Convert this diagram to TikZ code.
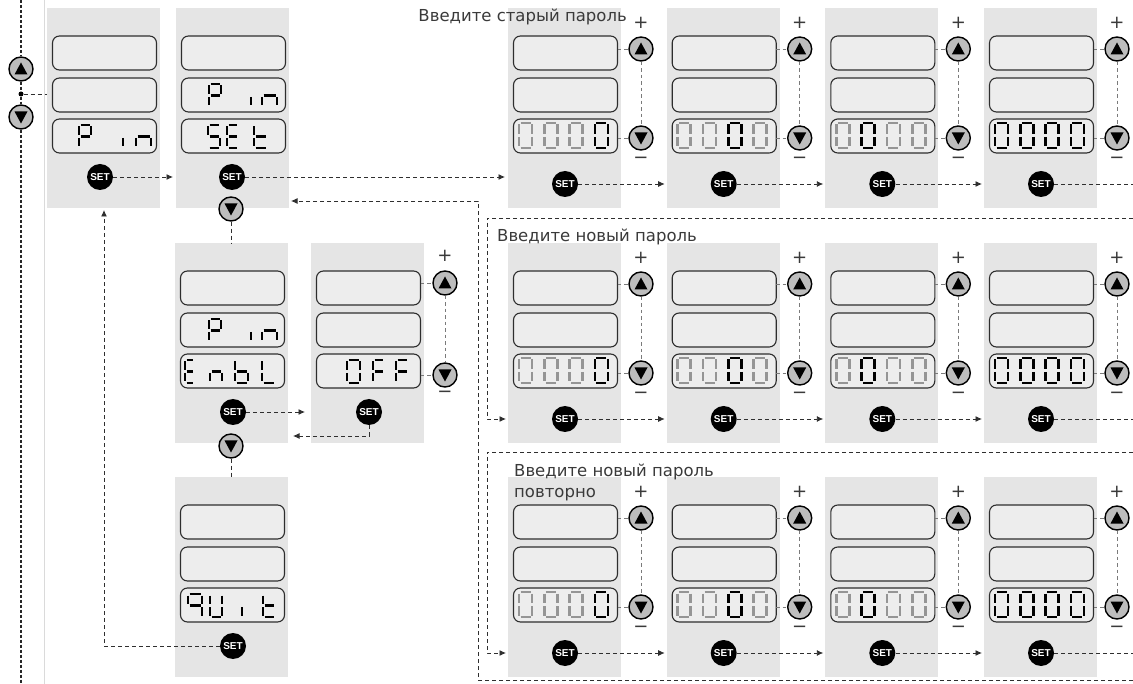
\documentclass[tikz,border=0pt]{standalone}
\usepackage{fontspec}
\setmainfont{DejaVu Sans}
\newfontfamily\btnfont{Liberation Sans}
\usetikzlibrary{arrows.meta,calc}

\definecolor{panelgray}{HTML}{E5E5E5}
\definecolor{lcdfill}{HTML}{EDEDED}
\definecolor{lcdedge}{HTML}{2E2E2E}
\definecolor{segoff}{HTML}{959595}
\definecolor{btngray}{HTML}{BDBDBD}
\definecolor{wirecol}{HTML}{2F2F2F}
\definecolor{tickcol}{HTML}{7A7A7A}
\definecolor{railcol}{HTML}{DADADA}
\definecolor{labelcol}{HTML}{3A3A3A}

\tikzset{
  panelbox/.style={fill=panelgray, minimum width=113pt, minimum height=200pt, inner sep=0pt, outer sep=0pt, anchor=north west},
  lcd/.style={draw=lcdedge, fill=lcdfill, rounded corners=7pt, line width=1.1pt, minimum width=104pt, minimum height=34pt, inner sep=0pt, outer sep=0pt, anchor=north west},
  setbtn/.style={circle, fill=black, minimum size=26pt, inner sep=0pt, text=white, font=\btnfont\bfseries\fontsize{10}{10}\selectfont},
  arrbtn/.style={circle, fill=btngray, draw=black, line width=1.4pt, minimum size=24pt, inner sep=0pt},
  wire/.style={draw=wirecol, line width=0.9pt, dash pattern=on 4pt off 3pt},
  wirearrow/.style={wire, -{Latex[length=6.5pt,width=6pt]}},
  tickline/.style={draw=tickcol, line width=0.8pt, dash pattern=on 3.5pt off 3pt},
  rail/.style={draw=black!85, line width=1.4pt, dash pattern=on 3pt off 2pt},
  seg/.style={line width=2.6pt},
  sign/.style={font=\fontsize{18}{18}\selectfont, text=labelcol, inner sep=0pt},
  caption/.style={font=\fontsize{16.5}{21}\selectfont, text=labelcol, inner sep=0pt, anchor=west, align=left},
}

% seven-segment pieces: x, top, width, height, colour
\newcommand\lcsa[5]{\draw[seg,color=#5] (#1+1.5,#2) -- (#1+#3-1.5,#2);}
\newcommand\lcsb[5]{\draw[seg,color=#5] (#1+#3,#2+1.5) -- (#1+#3,#2+#4/2-1.5);}
\newcommand\lcsc[5]{\draw[seg,color=#5] (#1+#3,#2+#4/2+1.5) -- (#1+#3,#2+#4-1.5);}
\newcommand\lcsd[5]{\draw[seg,color=#5] (#1+1.5,#2+#4) -- (#1+#3-1.5,#2+#4);}
\newcommand\lcse[5]{\draw[seg,color=#5] (#1,#2+#4/2+1.5) -- (#1,#2+#4-1.5);}
\newcommand\lcsf[5]{\draw[seg,color=#5] (#1,#2+1.5) -- (#1,#2+#4/2-1.5);}
\newcommand\lcsg[5]{\draw[seg,color=#5] (#1+1.5,#2+#4/2) -- (#1+#3-1.5,#2+#4/2);}
% one character: x, top, width, height, colour, segment list
\newcommand\lcdchar[6]{\foreach \sgx in {#6}{\csname lcs\sgx\endcsname{#1}{#2}{#3}{#4}{#5}}}

% panel with three displays and a SET key: name, x, y, SET dx, SET dy
\newcommand\mkpanel[5]{%
  \node[panelbox] (#1) at (#2,#3) {};
  \node[lcd] (#1-1) at (#2+5.5,#3+28) {};
  \node[lcd] (#1-2) at (#2+5.5,#3+70) {};
  \node[lcd] (#1-3) at (#2+5.5,#3+111) {};
  \node[setbtn] (#1-s) at (#2+#4,#3+#5) {SET};
}
\newcommand\upbtn[3]{\node[arrbtn] (#1) at (#2,#3) {};
  \fill (#2,#3-6.5) -- (#2+6.5,#3+5.5) -- (#2-6.5,#3+5.5) -- cycle;}
\newcommand\dnbtn[3]{\node[arrbtn] (#1) at (#2,#3) {};
  \fill (#2,#3+6.5) -- (#2+6.5,#3-5.5) -- (#2-6.5,#3-5.5) -- cycle;}

\begin{document}
\begin{tikzpicture}[x=1pt,y=-1pt]
\useasboundingbox (0,0) rectangle (1133,684);
\fill[white] (0,0) rectangle (1133,684);

% separator and menu rail on the left
\draw[railcol, line width=1pt] (44,0) -- (44,684);

% ---- menu column ----
\mkpanel{pA}{47}{8}{53}{169}
\mkpanel{pB}{176}{8}{56}{169}
\mkpanel{pC}{175}{243}{58}{169}
\mkpanel{pD}{311}{243}{58}{169}
\mkpanel{pE}{175}{477}{58}{169}

% P in
\lcdchar{79}{125}{12}{23}{black}{a,b,f,g,e}
\lcdchar{123}{125}{12}{23}{black}{e}
\lcdchar{136}{125}{15}{23}{black}{e,g,c}
% P in / SEt
\lcdchar{209}{84}{12}{23}{black}{a,b,f,g,e}
\lcdchar{251}{84}{12}{23}{black}{e}
\lcdchar{262}{84}{15}{23}{black}{e,g,c}
\lcdchar{208}{125}{12}{23}{black}{a,f,g,c,d}
\lcdchar{227}{125}{11}{23}{black}{a,f,g,e,d}
\lcdchar{254}{125}{13}{23}{black}{f,e,g,d}
% P in / EnbL
\lcdchar{209}{319}{12}{23}{black}{a,b,f,g,e}
\lcdchar{251}{319}{12}{23}{black}{e}
\lcdchar{262}{319}{15}{23}{black}{e,g,c}
\lcdchar{185}{360}{9}{23}{black}{a,f,g,e,d}
\lcdchar{210}{360}{12}{23}{black}{e,g,c}
\lcdchar{235}{360}{13}{23}{black}{f,e,g,c,d}
\lcdchar{262}{360}{13}{23}{black}{f,e,d}
% OFF
\lcdchar{347}{360}{13}{23}{black}{a,b,c,d,e,f}
\lcdchar{373}{360}{11}{23}{black}{a,f,g,e}
\lcdchar{396}{360}{12}{23}{black}{a,f,g,e}
% 9Uit
\lcdchar{188}{594}{14}{23}{black}{a,b,c,f,g}
\lcdchar{210}{594}{12}{23}{black}{b,c,d,e,f}
\lcdchar{242}{594}{12}{23}{black}{e}
\lcdchar{263}{594}{12}{23}{black}{f,e,g,d}

\upbtn{lu}{21}{69}
\dnbtn{ld}{21}{117}
\node[circle, fill=black, minimum size=5pt, inner sep=0pt] (dot) at (21,94) {};
\dnbtn{pB-d}{231}{209}
\dnbtn{pC-d}{231}{446}
\upbtn{pD-u}{445}{283}
\dnbtn{pD-dn}{445}{375}
\node[sign] (pD-plus) at (445,256) {+};
\node[sign] (pD-minus) at (445,394) {−};

% ---- password entry rows ----
\foreach \r/\ty in {1/8,2/243,3/477}{
  \foreach \k/\px in {1/508,2/666.7,3/825.3,4/984}{
    \mkpanel{r\r\k}{\px}{\ty}{57}{176}
    \foreach \i in {0,1,2,3}{
      \pgfmathsetmacro\dx{\px+11+25.3*\i}
      \pgfmathsetmacro\dy{\ty+115}
      \pgfmathtruncatemacro\act{or(\i==4-\k, and(\k==4, \i>0))}
      \ifnum\act=1 \def\dcol{black}\else\def\dcol{segoff}\fi
      \lcdchar{\dx}{\dy}{13}{25}{\dcol}{a,b,c,d,e,f}
    }
    \pgfmathsetmacro\bx{\px+133}
    \upbtn{r\r\k-u}{\bx}{\ty+41}
    \dnbtn{r\r\k-d}{\bx}{\ty+130}
    \node[sign] (r\r\k-plus) at (\bx,\ty+15) {+};
    \node[sign] (r\r\k-minus) at (\bx,\ty+152) {−};
    \draw[tickline] (r\r\k-u) -- (r\r\k-d);
    \draw[tickline] (r\r\k-1.east |- r\r\k-u) -- (r\r\k-u);
    \draw[tickline] (r\r\k-3.east |- r\r\k-d) -- (r\r\k-d);
  }
  \foreach \k/\n in {1/2,2/3,3/4}{
    \draw[wirearrow] (r\r\k-s) -- ($(r\r\n.west |- r\r\k-s)+(-2,0)$);
  }
  \coordinate (edge\r) at (1133,\ty+176);
  \draw[wire] (r\r4-s) -- (edge\r);
}

\node[caption, anchor=east] (capold) at (627,17) {Введите старый пароль};
\node[caption] (capnew) at (497,237) {Введите новый пароль};
\node[caption, anchor=north west] (caprep) at (514,464) {Введите новый пароль\\повторно};

% ---- connectors ----
\coordinate (railtop) at (21,0);
\coordinate (railbot) at (21,684);
\draw[rail] (railtop) -- (lu);
\draw[rail] (lu) -- (dot) -- (ld);
\draw[rail] (ld) -- (railbot);
\draw[wire] (dot) -- (pA.west |- dot);

\draw[tickline] (pD-1.east |- pD-u) -- (pD-u);
\draw[tickline] (pD-3.east |- pD-dn) -- (pD-dn);
\draw[tickline] (pD-u) -- (pD-dn);

\draw[wirearrow] (pA-s) -- ($(pB.west |- pA-s)+(-3,0)$);
\draw[wirearrow] (pB-s) -- ($(r11.west |- pB-s)+(-3,0)$);
\draw[wire] (pB-d) -- (pB-d |- pC.north);
\draw[wire] (pC-d) -- (pC-d |- pE.north);
\draw[wirearrow] (pC-s) -- ($(pD.west |- pC-s)+(-6,0)$);
\coordinate (offback) at (369,436);
\draw[wirearrow] (pD-s) |- ($(pC.east |- offback)+(5,0)$);
\coordinate (quitturn) at (104,646);
\draw[wirearrow] (pE-s) -- (quitturn) -- ($(quitturn |- pA.south)+(0,2)$);

% wrap from the end of one row to the start of the next
\coordinate (w1a) at (1133,218);
\coordinate (w1b) at (487,218);
\draw[wirearrow] (w1a) -- (w1b) |- ($(r21.west |- r21-s)+(-2,0)$);
\coordinate (w2a) at (1133,452);
\coordinate (w2b) at (487,452);
\draw[wirearrow] (w2a) -- (w2b) |- ($(r31.west |- r31-s)+(-2,0)$);

% return to the PIN menu
\coordinate (retA) at (1133,680);
\coordinate (retB) at (478,680);
\coordinate (retC) at (478,201);
\draw[wirearrow] (retA) -- (retB) -- (retC) -- ($(pB.east |- retC)+(2,0)$);
\end{tikzpicture}
\end{document}
